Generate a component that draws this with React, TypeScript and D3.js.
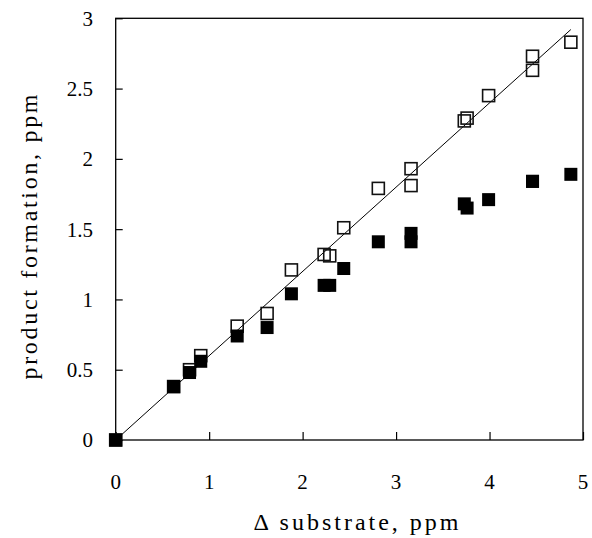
import React, { useEffect, useRef } from 'react'
import * as d3 from 'd3'

// substrate consumed (ppm) for each sample
const substrate = [0, 0.62, 0.79, 0.91, 1.3, 1.62, 1.88, 2.23, 2.29, 2.44, 2.81, 3.16, 3.16, 3.73, 3.76, 3.99, 4.46, 4.46, 4.87]
// open squares: expected product
const openProduct = [0, 0.38, 0.5, 0.6, 0.81, 0.9, 1.21, 1.32, 1.31, 1.51, 1.79, 1.93, 1.81, 2.27, 2.29, 2.45, 2.73, 2.63, 2.83]
// filled squares: measured product
const filledProduct = [0, 0.38, 0.48, 0.56, 0.74, 0.8, 1.04, 1.1, 1.1, 1.22, 1.41, 1.47, 1.41, 1.68, 1.65, 1.71, 1.84, 1.84, 1.89]
// 1:1 reference line
const fitX = [0, 4.87]
const fitY = [0, 2.92]

const xTicks = [0, 1, 2, 3, 4, 5]
const yTicks = [0, 0.5, 1, 1.5, 2, 2.5, 3]

const W = 592
const H = 538
const margin = { left: 115.7, right: 9, top: 18.3, bottom: 98 }
const font = "'Liberation Serif', 'DejaVu Serif', serif"

export default function App() {
  const svgRef = useRef<SVGSVGElement>(null)

  useEffect(() => {
    const svg = d3.select(svgRef.current)
    svg.selectAll('*').remove()

    const x = d3.scaleLinear().domain([0, 5]).range([margin.left, W - margin.right])
    const y = d3.scaleLinear().domain([0, 3]).range([H - margin.bottom, margin.top])

    const g = svg.append('g').style('font-family', font)

    // frame
    g.append('rect')
      .attr('x', x(0))
      .attr('y', y(3))
      .attr('width', x(5) - x(0))
      .attr('height', y(0) - y(3))
      .attr('fill', 'none')
      .attr('stroke', '#000')
      .attr('stroke-width', 1.3)

    // x axis: inward ticks
    const xAxis = d3.axisTop(x).tickValues(xTicks).tickSize(8).tickFormat(() => '')
    g.append('g')
      .attr('transform', `translate(0,${y(0)})`)
      .call(xAxis)
      .call((s) => s.select('.domain').remove())
      .selectAll('line')
      .attr('stroke-width', 1.2)

    g.selectAll('.xlab')
      .data(xTicks)
      .enter()
      .append('text')
      .attr('x', (d) => x(d))
      .attr('y', y(0) + 49)
      .attr('text-anchor', 'middle')
      .style('font-family', font)
      .style('font-size', '21px')
      .text((d) => d3.format('')(d))

    // y axis: inward ticks
    const yAxis = d3.axisRight(y).tickValues(yTicks).tickSize(7).tickFormat(() => '')
    g.append('g')
      .attr('transform', `translate(${x(0)},0)`)
      .call(yAxis)
      .call((s) => s.select('.domain').remove())
      .selectAll('line')
      .attr('stroke-width', 1.2)

    g.selectAll('.ylab')
      .data(yTicks)
      .enter()
      .append('text')
      .attr('x', 93)
      .attr('y', (d) => y(d))
      .attr('dy', '0.35em')
      .attr('text-anchor', 'end')
      .style('font-family', font)
      .style('font-size', '21px')
      .text((d) => d3.format('')(d))

    // axis titles
    g.append('text')
      .attr('x', 356)
      .attr('y', 530)
      .attr('text-anchor', 'middle')
      .style('font-family', font)
      .style('font-size', '24px')
      .attr('textLength', 205)
      .attr('lengthAdjust', 'spacing')
      .text('Δ substrate, ppm')

    g.append('text')
      .attr('transform', `translate(37,237) rotate(-90)`)
      .attr('text-anchor', 'middle')
      .style('font-family', font)
      .style('font-size', '24px')
      .attr('textLength', 285)
      .attr('lengthAdjust', 'spacing')
      .text('product formation, ppm')

    // reference line
    const line = d3
      .line<number>()
      .x((d) => x(d))
      .y((_, i) => y(fitY[i]))
    g.append('path')
      .attr('d', line(fitX))
      .attr('fill', 'none')
      .attr('stroke', '#000')
      .attr('stroke-width', 1)

    const s = 12
    g.selectAll('.open')
      .data(substrate)
      .enter()
      .append('rect')
      .attr('x', (d) => x(d) - s / 2)
      .attr('y', (_, i) => y(openProduct[i]) - s / 2)
      .attr('width', s)
      .attr('height', s)
      .attr('fill', 'none')
      .attr('stroke', '#111')
      .attr('stroke-width', 1.6)

    const f = 13
    g.selectAll('.filled')
      .data(substrate)
      .enter()
      .append('rect')
      .attr('x', (d) => x(d) - f / 2)
      .attr('y', (_, i) => y(filledProduct[i]) - f / 2)
      .attr('width', f)
      .attr('height', f)
      .attr('fill', '#000')
  }, [])

  return (
    <svg
      ref={svgRef}
      width={W}
      height={H}
      style={{ position: 'absolute', left: 0, top: 0, background: '#fff' }}
    />
  )
}
